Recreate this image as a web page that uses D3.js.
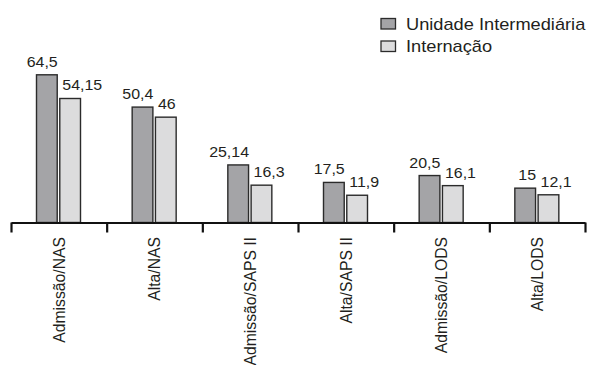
<!DOCTYPE html>
<html>
<head>
<meta charset="utf-8">
<script src="https://cdn.jsdelivr.net/npm/d3@7"></script>
<style>
  html, body { margin: 0; padding: 0; background: #ffffff; }
  svg { display: block; font-family: "Liberation Sans", Arial, sans-serif; }
</style>
</head>
<body>
<svg id="chart" width="593" height="365"></svg>
<script>
// Categories and the two series
const categories = ["Admissão/NAS", "Alta/NAS", "Admissão/SAPS II", "Alta/SAPS II", "Admissão/LODS", "Alta/LODS"];
const seriesNames = ["Unidade Intermediária", "Internação"];
const unidadeValues = [64.5, 50.4, 25.14, 17.5, 20.5, 15];
const internacaoValues = [54.15, 46, 16.3, 11.9, 16.1, 12.1];
const valueLabelsUnidade = ["64,5", "50,4", "25,14", "17,5", "20,5", "15"];
const valueLabelsInternacao = ["54,15", "46", "16,3", "11,9", "16,1", "12,1"];

const colors = ["#a4a4a7", "#dcdcdd"];
const textColor = "#231f20";
const stretch = 1.14;

const svg = d3.select("#chart");

const axisLeft = 11, axisRight = 585, axisY = 222.5;

const x0 = d3.scaleBand().domain(categories).range([axisLeft, axisRight]).padding(0);
const x1 = d3.scaleBand().domain(seriesNames).range([25.5, 69.5]).paddingInner(0.11).paddingOuter(0);
const y = d3.scaleLinear().domain([0, 70]).range([axisY, 62.2]);

const rows = categories.map((c, i) => ({
  cat: c,
  bars: [
    { s: seriesNames[0], v: unidadeValues[i], label: valueLabelsUnidade[i], k: 0 },
    { s: seriesNames[1], v: internacaoValues[i], label: valueLabelsInternacao[i], k: 1 }
  ]
}));

const groups = svg.append("g").selectAll("g")
  .data(rows).join("g")
  .attr("transform", d => `translate(${x0(d.cat)},0)`);

groups.selectAll("rect")
  .data(d => d.bars).join("rect")
  .attr("x", d => x1(d.s))
  .attr("y", d => y(d.v))
  .attr("width", x1.bandwidth())
  .attr("height", d => y(0) - y(d.v))
  .attr("fill", d => colors[d.k])
  .attr("stroke", "#2b2b2b")
  .attr("stroke-width", 1.4);

// Value labels: first series right-aligned to its bar, second starts at its bar
groups.selectAll("text.val")
  .data(d => d.bars).join("text")
  .attr("class", "val")
  .attr("transform", d => {
    const tx = d.k === 0 ? x1(d.s) + x1.bandwidth() + 0.5 : x1(d.s) + 2.5;
    return `translate(${tx},${y(d.v) - 8}) scale(${stretch},1)`;
  })
  .attr("text-anchor", d => d.k === 0 ? "end" : "start")
  .attr("font-size", 14)
  .attr("fill", textColor)
  .text(d => d.label);

// Category axis with ticks on the band boundaries
const boundary = d3.scaleLinear().domain([0, categories.length]).range([axisLeft, axisRight]);
const axis = d3.axisBottom(boundary)
  .tickValues(d3.range(categories.length + 1))
  .tickSize(10)
  .tickSizeOuter(0)
  .tickFormat("");
const axisG = svg.append("g").attr("transform", `translate(0,${axisY})`).call(axis);
axisG.select(".domain").attr("stroke", "#111").attr("stroke-width", 2.2);
axisG.selectAll(".tick line").attr("stroke", "#111").attr("stroke-width", 2.2);

// Rotated category labels
svg.append("g").selectAll("text")
  .data(categories).join("text")
  .attr("transform", d => `translate(${x0(d) + x0.bandwidth() / 2 + 5.7},237) rotate(-90) scale(1,1.05)`)
  .attr("text-anchor", "end")
  .attr("font-size", 15.75)
  .attr("fill", textColor)
  .text(d => d);

// Legend
const legend = svg.append("g").attr("transform", "translate(381,18.5)");
const items = legend.selectAll("g").data(seriesNames).join("g")
  .attr("transform", (d, i) => `translate(0,${i * 22.5})`);
items.append("rect")
  .attr("width", 14.5).attr("height", 10.5)
  .attr("fill", (d, i) => colors[i])
  .attr("stroke", "#2b2b2b").attr("stroke-width", 1.3);
items.append("text")
  .attr("transform", `translate(25,11) scale(${stretch},1)`)
  .attr("font-size", 16)
  .attr("fill", textColor)
  .text(d => d);
</script>
</body>
</html>
